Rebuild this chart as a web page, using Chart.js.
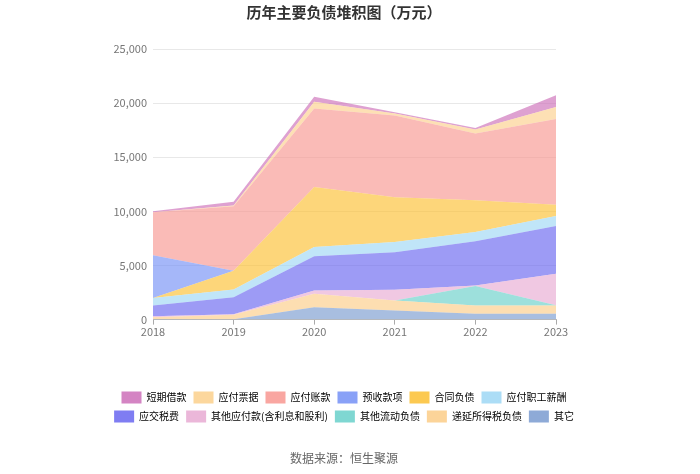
<!DOCTYPE html>
<html>
<head>
<meta charset="utf-8">
<script src="https://cdn.jsdelivr.net/npm/chart.js@4"></script>
<style>
html,body{margin:0;padding:0;background:#fff;}
#wrap{width:700px;height:474px;}
</style>
</head>
<body>
<div id="wrap"><canvas id="c" width="700" height="474"></canvas></div>
<script>
const years = ['2018', '2019', '2020', '2021', '2022', '2023'];
// bottom -> top stacking order
const qita        = [60, 30, 1150, 850, 530, 530];        // 其它
const diyanSui    = [150, 420, 1230, 910, 770, 770];      // 递延所得税负债
const qitaLiudong = [0, 0, 0, 0, 1800, 30];               // 其他流动负债
const qitaYingfu  = [100, 50, 300, 990, 50, 2900];        // 其他应付款(含利息和股利)
const yingjiaoShui= [1000, 1570, 3180, 3480, 4100, 4420]; // 应交税费
const zhigongXc   = [680, 700, 840, 930, 850, 930];       // 应付职工薪酬
const hetongFz    = [0, 1750, 5550, 4140, 2920, 1020];    // 合同负债
const yushou      = [3950, 0, 0, 0, 0, 0];                // 预收款项
const yingfuZk    = [3970, 5950, 7250, 7550, 6170, 7930]; // 应付账款
const yingfuPj    = [0, 80, 620, 200, 370, 1110];         // 应付票据
const duanqiJk    = [100, 330, 470, 100, 150, 1080];      // 短期借款
const yTicks = [0, 5000, 10000, 15000, 20000, 25000];

const series = [
  {name: '其它', data: qita, rgb: [122,155,208]},
  {name: '递延所得税负债', data: diyanSui, rgb: [252,205,135]},
  {name: '其他流动负债', data: qitaLiudong, rgb: [105,208,202]},
  {name: '其他应付款(含利息和股利)', data: qitaYingfu, rgb: [232,170,210]},
  {name: '应交税费', data: yingjiaoShui, rgb: [104,102,240]},
  {name: '应付职工薪酬', data: zhigongXc, rgb: [158,215,245]},
  {name: '合同负债', data: hetongFz, rgb: [252,192,50]},
  {name: '预收款项', data: yushou, rgb: [116,145,246]},
  {name: '应付账款', data: yingfuZk, rgb: [248,150,145]},
  {name: '应付票据', data: yingfuPj, rgb: [252,208,140]},
  {name: '短期借款', data: duanqiJk, rgb: [205,110,185]}
];
const rgba = (c, a) => `rgba(${c[0]},${c[1]},${c[2]},${a})`;

Chart.defaults.font.family = "'Noto Sans CJK SC', 'Noto Sans', sans-serif";

const datasets = series.map((s, i) => ({
  label: s.name,
  data: s.data,
  backgroundColor: rgba(s.rgb, 0.65),
  borderColor: rgba(s.rgb, 0.65),
  borderWidth: 0,
  pointRadius: 0,
  pointHoverRadius: 0,
  tension: 0,
  fill: i === 0 ? 'origin' : '-1',
  legendColor: rgba(s.rgb, 0.85)
}));

new Chart(document.getElementById('c'), {
  type: 'line',
  data: {labels: years, datasets},
  options: {
    responsive: false,
    animation: false,
    devicePixelRatio: 1,
    layout: {padding: {left: 94, right: 106, top: 0, bottom: 0}},
    plugins: {
      title: {
        display: true,
        text: '历年主要负债堆积图（万元）',
        color: '#333',
        font: {size: 15, weight: 'bold'},
        padding: {top: 3, bottom: 28}
      },
      subtitle: {
        display: true,
        position: 'bottom',
        text: '数据来源：恒生聚源',
        color: '#666',
        font: {size: 12},
        padding: {top: 19, bottom: 8}
      },
      legend: {
        position: 'bottom',
        reverse: true,
        labels: {
          boxWidth: 20,
          boxHeight: 12,
          padding: 7,
          color: '#555',
          font: {size: 10},
          useBorderRadius: true,
          borderRadius: 3,
          generateLabels(chart) {
            return chart.data.datasets.map((ds, i) => ({
              text: ds.label,
              fillStyle: ds.legendColor,
              strokeStyle: ds.legendColor,
              lineWidth: 0,
              hidden: !chart.isDatasetVisible(i),
              datasetIndex: i
            }));
          }
        }
      },
      tooltip: {enabled: false}
    },
    scales: {
      x: {
        type: 'category',
        offset: false,
        grid: {display: true, drawOnChartArea: false, drawTicks: true, tickLength: 5, color: '#aaa'},
        border: {display: true, color: '#bbb'},
        ticks: {color: '#777', font: {size: 11}, padding: 1, maxRotation: 0},
        afterFit(s) { s.height = 65; }
      },
      y: {
        position: 'left',
        stacked: true,
        min: 0,
        max: 25000,
        afterBuildTicks(s) { s.ticks = yTicks.map(v => ({value: v})); },
        grid: {color: '#e8e8e8', drawTicks: false},
        border: {display: false},
        ticks: {color: '#777', font: {size: 11}, padding: 6,
          callback: v => v.toLocaleString('en-US')},
        afterFit(s) { s.width = 59; }
      },
      yRight: {
        position: 'right',
        display: true,
        grid: {display: false, drawTicks: false},
        border: {display: false},
        ticks: {display: false},
        afterFit(s) { s.width = 38; }
      }
    }
  }
});
</script>
</body>
</html>
